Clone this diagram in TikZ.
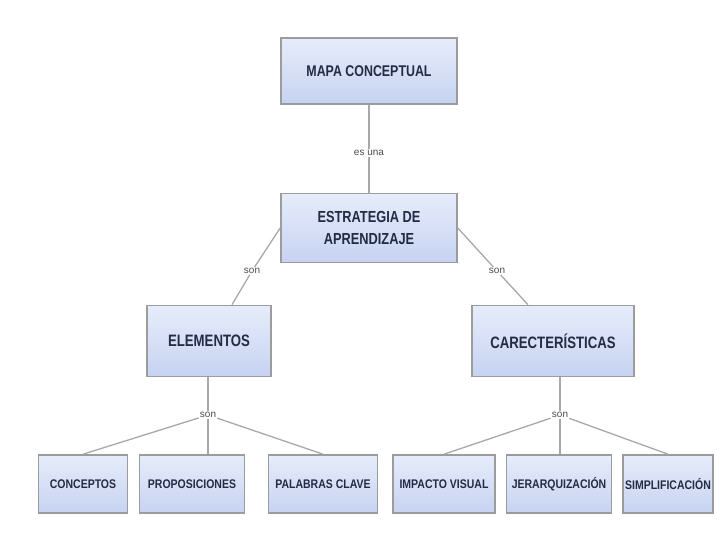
\documentclass[tikz,border=0pt]{standalone}
\usepackage{fontspec}
\newfontfamily\boxfont{Liberation Sans}[FakeStretch=0.80]
\newfontfamily\leaffont{Liberation Sans}[FakeStretch=0.84]
\newfontfamily\linkfont{Liberation Sans}
\usepackage{tikz}
\usetikzlibrary{positioning}

\begin{document}
\begin{tikzpicture}[x=1pt,y=-1pt]
\definecolor{boxtop}{HTML}{E6ECFA}
\definecolor{boxbot}{HTML}{C6D3F1}
\definecolor{boxline}{HTML}{9C9C9C}
\definecolor{boxtext}{HTML}{232B45}
\definecolor{linkline}{HTML}{A8A8A8}
\tikzset{
  concept/.style={draw=boxline, line width=1.6pt, top color=boxtop, bottom color=boxbot,
    text=boxtext, font=\boxfont\bfseries, align=center, inner sep=2pt},
  leaf/.style={concept, minimum height=58pt, inner xsep=1pt,
    font=\leaffont\bfseries\fontsize{12.5}{14}\selectfont},
  linklabel/.style={fill=white, text=black!70, font=\linkfont\fontsize{10}{11}\selectfont, inner sep=1pt},
  link/.style={draw=linkline, line width=1.3pt}
}
\useasboundingbox (0,0) rectangle (720,540);

% TOP
\node[concept, minimum width=176pt, minimum height=66pt, font=\boxfont\bfseries\fontsize{15.5}{18}\selectfont]
  (mapa) at (369,71) {MAPA CONCEPTUAL};
\node[concept, minimum width=176pt, minimum height=69pt, font=\boxfont\bfseries\fontsize{16}{22}\selectfont]
  (estrategia) at (369,228) {ESTRATEGIA DE\\APRENDIZAJE};

% MIDDLE
\node[concept, minimum width=124pt, minimum height=71pt, font=\boxfont\bfseries\fontsize{16.5}{19}\selectfont]
  (elementos) at (209,341) {ELEMENTOS};
\node[concept, minimum width=162pt, minimum height=71pt, font=\boxfont\bfseries\fontsize{16.5}{19}\selectfont]
  (caract) at (553,341) {CARECTERÍSTICAS};

% BOTTOM
\node[leaf, minimum width=89pt] (conceptos) at (83,484) {CONCEPTOS};
\node[leaf, minimum width=105pt] (proposiciones) at (192,484) {PROPOSICIONES};
\node[leaf, minimum width=109pt] (palabras) at (323,484) {PALABRAS CLAVE};
\node[leaf, minimum width=102pt] (impacto) at (444,484) {IMPACTO VISUAL};
\node[leaf, minimum width=105pt] (jerarq) at (559,484) {JERARQUIZACIÓN};
\node[leaf, minimum width=90pt] (simplif) at (668,484) {SIMPLIFICACIÓN};

% LINK LABELS
\node[linklabel] (esuna) at (369,153) {es una};
\node[linklabel] (sonA) at (252,271) {son};
\node[linklabel] (sonB) at (497,271) {son};
\node[linklabel] (sonC) at (208,415) {son};
\node[linklabel] (sonD) at (560,415) {son};

% LINKS
\draw[link] (mapa) -- (esuna) -- (estrategia);
\draw[link] (estrategia.west) -- (sonA) -- ([xshift=23pt]elementos.north);
\draw[link] (estrategia.east) -- (sonB) -- ([xshift=-25pt]caract.north);
\draw[link] (elementos.south -| sonC) -- (sonC);
\draw[link] (sonC) -- (conceptos.north);
\draw[link] (sonC) -- (sonC |- proposiciones.north);
\draw[link] (sonC) -- (palabras.north);
\draw[link] (caract.south -| sonD) -- (sonD);
\draw[link] (sonD) -- (impacto.north);
\draw[link] (sonD) -- (sonD |- jerarq.north);
\draw[link] (sonD) -- (simplif.north);
\end{tikzpicture}
\end{document}
